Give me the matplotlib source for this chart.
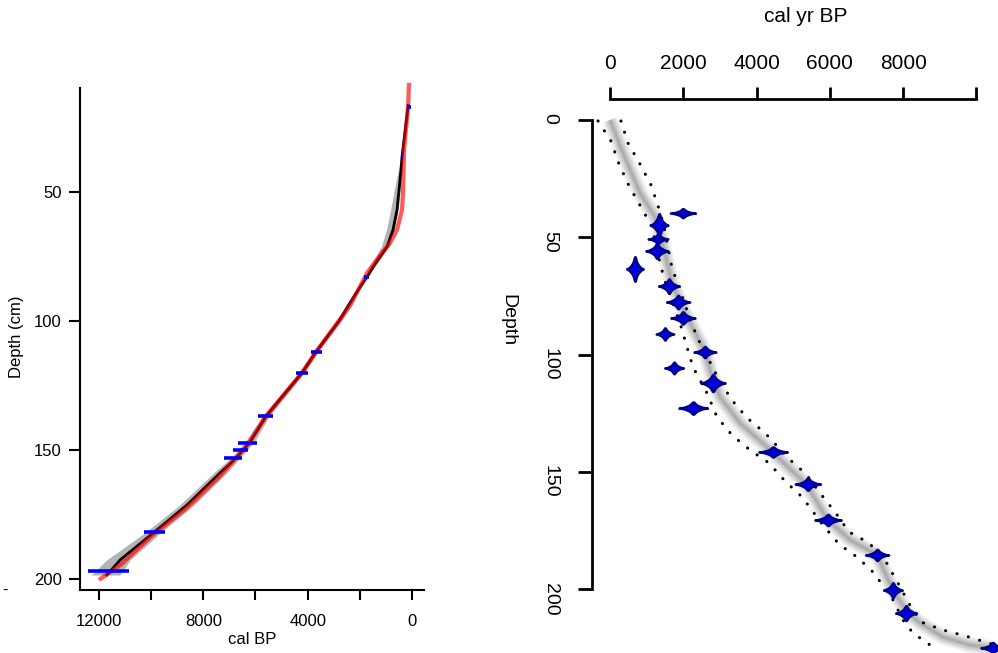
import numpy as np
import matplotlib
matplotlib.use('Agg')
import matplotlib.pyplot as plt

plt.rcParams['font.family'] = ['Liberation Sans', 'DejaVu Sans']

#==============================================================================
# left panel data : age-depth model (cal BP vs depth cm)
#==============================================================================
l_depth = [16.5, 36.4, 41.5, 49.2, 57.0, 64.7, 71.3, 75.2, 79.1, 82.9, 88.0, 91.1, 100, 112, 120,
           137, 146.9, 152.7, 158.9, 171.3, 182.2, 192.6, 198.5]
l_mean  = [150, 383, 421, 498, 575, 728, 958, 1226, 1494, 1724, 2068, 2260, 2800, 3680, 4210,
           5600, 6205, 6700, 7354, 8618, 9920, 11184, 11700]
l_envlo = [100, 340, 380, 450, 530, 680, 900, 1170, 1440, 1680, 2010, 2200, 2700, 3600, 4120,
           5480, 6050, 6550, 7100, 8350, 9650, 10800, 11200]
l_envhi = [200, 430, 520, 680, 820, 980, 1180, 1400, 1620, 1800, 2150, 2350, 2900, 3800, 4330,
           5750, 6400, 6900, 7600, 8900, 10250, 11700, 12300]

red_depth = [7.7, 17, 33.7, 50.4, 57, 64.7, 69.8, 73.6, 81.4, 94, 112, 120, 137, 148, 160.5, 173,
             183.5, 194.6, 200.4]
red_age   = [115, 150, 306, 345, 383, 575, 843, 1149, 1724, 2370, 3680, 4210, 5600, 6300, 7400, 8700,
             10000, 11180, 12000]

bar_depth = [17, 36, 83, 112, 120, 137, 147.3, 150, 153, 182, 197]
bar_min   = [50, 330, 1650, 3450, 3980, 5320, 5940, 6280, 6510, 9460, 10840]
bar_max   = [200, 420, 1850, 3870, 4440, 5900, 6660, 6850, 7200, 10260, 12410]

#==============================================================================
# right panel data : Bacon style plot (cal yr BP vs depth)
#==============================================================================
r_depth = [0, 14.1, 31.1, 41.4, 48.2, 69.5, 82.3, 98.9, 106.6, 118.1, 129.2, 139.4, 155.6,
           170.1, 179.0, 185.4, 200.4, 209.7, 214.4, 220.4, 223.8, 225.1]
r_age   = [0, 355, 819, 1228, 1365, 1692, 2047, 2593, 2729, 3002, 3548, 4285, 5376,
           5922, 6550, 7286, 7723, 8105, 8460, 9088, 9824, 10452]

lo_depth = [0.4, 9.0, 18.8, 28.1, 37.1, 45.6, 61.0, 67.4, 86.5, 96.8, 105.3, 116.4, 126.6, 134.3,
            140.7, 146.2, 153.9, 160.7, 172.7, 180.8, 186.3, 193.1, 204.6, 213.2, 218.7, 224.7]
lo_age   = [-327, 27, 246, 519, 846, 1146, 1365, 1474, 1910, 2101, 2265, 2647, 2920, 3329,
            3821, 4339, 4776, 5240, 5813, 6249, 6741, 7205, 7723, 7996, 8269, 8815]

hi_depth = [0.4, 9.8, 18.8, 27.7, 39.2, 45.6, 63.1, 72.5, 82.3, 92.5, 101.5, 110.8, 119.4, 127.0,
            133.4, 144.5, 150.9, 159.0, 167.1, 175.6, 180.3, 187.6, 200.4, 205.5, 214.0, 217.4,
            220.0, 224.2]
hi_age   = [300, 491, 819, 1119, 1365, 1474, 1692, 1910, 2129, 2374, 2674, 2975, 3329, 3739,
            4230, 4885, 5349, 5731, 6140, 6522, 7068, 7505, 7968, 8132, 8487, 9088,
            9715, 10588]

d_age   = [1990, 1340, 1310, 1280, 680, 1610, 1860, 1990, 1500, 2590, 1750, 2810, 2270,
           4450, 5400, 5950, 7290, 7720, 8080, 10450]
d_depth = [39.7, 44.8, 50.7, 55.8, 63.5, 70.8, 77.6, 84.4, 91.2, 98.9, 105.7, 112.1, 122.8,
           141.5, 155.2, 170.5, 185.4, 200.4, 210.2, 225]
d_sd    = [115, 80, 90, 100, 75, 95, 105, 110, 80, 100, 85, 110, 130, 130, 115, 120, 105, 85, 95, 110]
d_h     = [1.7, 4.3, 1.9, 2.8, 4.6, 2.7, 2.5, 2.3, 2.3, 2.1, 2.2, 3.2, 2.3, 1.9, 2.3, 2.1, 2.1, 2.8, 2.8, 2.0]

W, H = 998, 653
fig = plt.figure(figsize=(W/100, H/100), dpi=100)

def px_axes(l, t, r, b):
    return fig.add_axes([l/W, 1-b/H, (r-l)/W, (b-t)/H])

#===================================================================================
#                                left plot
#===================================================================================
ax1 = px_axes(80, 88, 424, 590)
ax1.fill_betweenx(l_depth, l_envlo, l_envhi, color='#b4b4b4', lw=0)
ax1.plot(l_mean, l_depth, color='black', lw=2)
ax1.plot(red_age, red_depth, color='red', lw=3, alpha=0.65, clip_on=False, solid_capstyle='butt')
ax1.hlines(bar_depth, bar_min, bar_max, color='#0000ff', lw=2.6)

ax1.set_xlim(12728, -460)
ax1.set_ylim(204.3, 9.7)
ax1.spines['top'].set_visible(False)
ax1.spines['right'].set_visible(False)
for s in ['left', 'bottom']:
    ax1.spines[s].set_linewidth(1.5)
ax1.set_xticks([12000, 10000, 8000, 6000, 4000, 2000, 0])
ax1.set_xticklabels(['12000', '', '8000', '', '4000', '', '0'])
ax1.set_yticks([50, 100, 150, 200])
ax1.tick_params(axis='x', length=7.5, width=1.5, labelsize=12, pad=10)
ax1.tick_params(axis='y', length=8, width=1.5, labelsize=12, pad=5)

fig.text(252/W, 1-639/H, 'cal BP', ha='center', va='center', fontsize=12)
fig.text(17/W, 1-337/H, 'Depth (cm)', ha='center', va='center', fontsize=12, rotation=90)
fig.text(5/W, 1-590/H, '-', ha='center', va='center', fontsize=12)

#===================================================================================
#                                right plot
#===================================================================================
ax2 = px_axes(592, 99, 998, 653)
# grey band, darker in the middle
for lw in [11, 8, 6, 4, 2.5, 1.2]:
    ax2.plot(r_age, r_depth, color='#555555', lw=lw, alpha=0.10, solid_capstyle='butt')
for xs, ys in [(lo_age, lo_depth), (hi_age, hi_depth)]:
    ax2.plot(xs, ys, color='black', lw=2.2, ls=(0, (0.05, 3.8)), dash_capstyle='round')

# calibrated dates as blobs
for a, d, s, h in zip(d_age, d_depth, d_sd, d_h):
    x = np.linspace(a - 3*s, a + 3*s, 100)
    z = (x - a)/s
    t = 1.15*h*(0.6*np.exp(-0.5*(z/1.2)**2) + 0.4*np.exp(-0.5*(z/0.35)**2))
    ax2.fill_between(x, d - t, d + t, facecolor='#0000dd', edgecolor='#000088', lw=1.6, zorder=5)

ax2.set_xlim(-491, 10588)
ax2.set_ylim(227.2, -8.95)
ax2.spines['bottom'].set_visible(False)
ax2.spines['right'].set_visible(False)
ax2.spines['top'].set_linewidth(2)
ax2.spines['left'].set_linewidth(2)
ax2.spines['top'].set_bounds(0, 10000)
ax2.spines['left'].set_bounds(0, 200)
ax2.xaxis.tick_top()
ax2.set_xticks([0, 2000, 4000, 6000, 8000, 10000])
ax2.set_xticklabels(['0', '2000', '4000', '6000', '8000', ''])
ax2.set_yticks([0, 50, 100, 150, 200])
ax2.set_yticklabels(['0', '50', '100', '150', '200'], rotation=270)
ax2.tick_params(axis='x', length=8.5, width=2, labelsize=15, pad=10)
ax2.tick_params(axis='y', length=10, width=2, labelsize=14, pad=14)

fig.text(806/W, 1-17/H, 'cal yr BP', ha='center', va='center', fontsize=15)
fig.text(508/W, 1-320/H, 'Depth', ha='center', va='center', fontsize=14, rotation=270)

plt.savefig('out.png', dpi=100)
